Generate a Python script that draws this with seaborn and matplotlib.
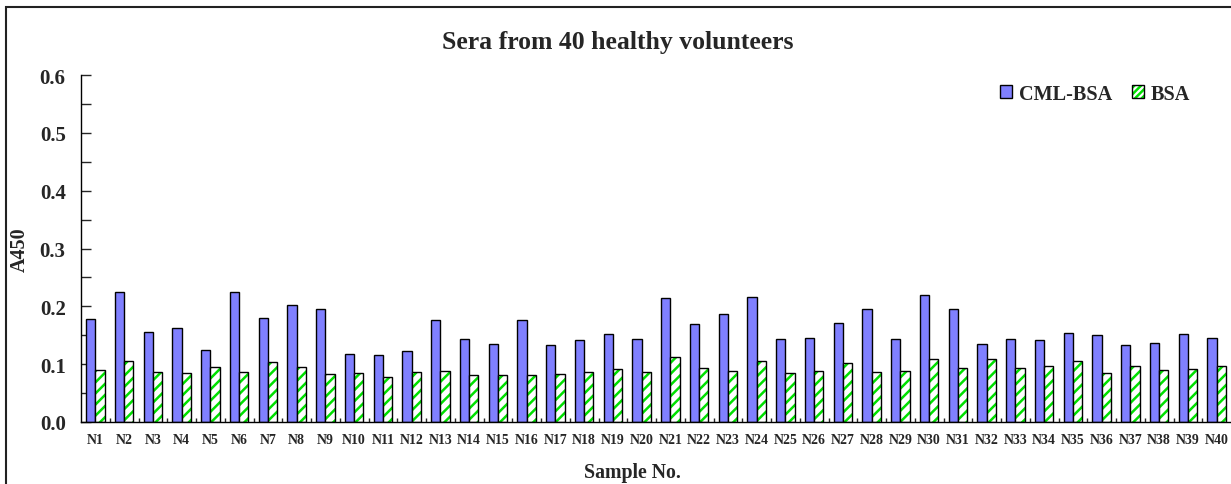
import matplotlib
matplotlib.use('Agg')
import matplotlib.pyplot as plt
import matplotlib.patches as mpatches
from matplotlib.legend_handler import HandlerTuple
from matplotlib.ticker import MultipleLocator, FixedLocator
import numpy as np
import pandas as pd
import seaborn as sns

# Data
samples = [f'N{i}' for i in range(1, 41)]
cml_bsa = [0.178, 0.225, 0.156, 0.163, 0.124, 0.225, 0.180, 0.203, 0.195, 0.118,
           0.116, 0.122, 0.176, 0.144, 0.135, 0.176, 0.133, 0.142, 0.152, 0.144,
           0.214, 0.169, 0.187, 0.216, 0.144, 0.146, 0.171, 0.195, 0.144, 0.220,
           0.195, 0.135, 0.144, 0.142, 0.154, 0.150, 0.133, 0.137, 0.152, 0.146]
bsa = [0.090, 0.105, 0.086, 0.085, 0.095, 0.086, 0.103, 0.095, 0.083, 0.085,
       0.077, 0.086, 0.088, 0.081, 0.081, 0.081, 0.083, 0.086, 0.092, 0.086,
       0.112, 0.094, 0.088, 0.105, 0.085, 0.088, 0.102, 0.086, 0.088, 0.109,
       0.094, 0.109, 0.094, 0.096, 0.105, 0.085, 0.096, 0.090, 0.092, 0.096]
series = ['CML-BSA', 'BSA']
y_ticks = [0.0, 0.1, 0.2, 0.3, 0.4, 0.5, 0.6]

df = pd.DataFrame({
    'sample': samples * 2,
    'value': cml_bsa + bsa,
    'antigen': [series[0]] * len(samples) + [series[1]] * len(samples),
})

BLUE = '#8080FF'
GREEN = '#00E000'

sns.set_style('white')
plt.rcParams['font.family'] = ['Liberation Serif', 'DejaVu Serif']
plt.rcParams['font.weight'] = 'bold'
plt.rcParams['hatch.linewidth'] = 1.8

W, H = 1231, 485
fig = plt.figure(figsize=(W / 100, H / 100), dpi=100)
ax = fig.add_axes([81 / W, 1 - 423 / H, 1 - 81 / W, (423 - 76) / H])

sns.barplot(data=df, x='sample', y='value', hue='antigen', order=samples,
            hue_order=series, palette={'CML-BSA': BLUE, 'BSA': 'white'},
            width=0.64, saturation=1, edgecolor='black', linewidth=1,
            legend=False, ax=ax)

# green hatch for BSA bars, black outline drawn on top
for p in ax.containers[1].patches:
    p.set_hatch('///')
    p.set_edgecolor(GREEN)
    p.set_linewidth(0)
    ax.add_patch(mpatches.Rectangle(p.get_xy(), p.get_width(), p.get_height(),
                                    fill=False, edgecolor='black', linewidth=1, zorder=p.get_zorder() + 0.1))

ax.set_ylim(0, 0.6)
ax.set_xlim(-0.5, len(samples) - 0.5)
ax.set_yticks(y_ticks)
ax.set_yticklabels([f'{t:.1f}' for t in y_ticks], fontsize=15, fontweight='bold')
ax.yaxis.set_minor_locator(MultipleLocator(0.05))
ax.tick_params(axis='y', which='both', direction='in', length=7, width=1, pad=11, left=True)
ax.xaxis.set_minor_locator(FixedLocator(np.arange(0.5, len(samples) - 0.5, 1)))
ax.tick_params(axis='x', which='major', length=0, pad=8, labelsize=10)
ax.tick_params(axis='x', which='minor', direction='in', length=3, width=1, bottom=True)
for lab in ax.get_xticklabels():
    lab.set_fontweight('bold')

for s in ['top', 'right']:
    ax.spines[s].set_visible(False)
for s in ['left', 'bottom']:
    ax.spines[s].set_color('black')
    ax.spines[s].set_linewidth(1)

ax.set_xlabel('')
ax.set_ylabel('A450', fontsize=14.5, fontweight='bold')
ax.yaxis.set_label_coords(-51 / (W - 81), 0.5)
fig.text(632 / W, 1 - 473 / H, 'Sample No.', ha='center', va='center', fontsize=14.3, fontweight='bold')
fig.text(618 / W, 1 - 42 / H, 'Sera from 40 healthy volunteers', ha='center', va='center',
         fontsize=18.5, fontweight='bold')

# legend
h_cml = mpatches.Patch(facecolor=BLUE, edgecolor='black', linewidth=1)
h_bsa = (mpatches.Patch(facecolor='white', edgecolor=GREEN, hatch='/////', linewidth=0),
         mpatches.Patch(fill=False, edgecolor='black', linewidth=1))
fig.legend([h_cml, h_bsa], series, handler_map={tuple: HandlerTuple(ndivide=1)},
           loc='center left', bbox_to_anchor=(1000 / W, 1 - 95 / H), ncol=2, frameon=False,
           prop={'weight': 'bold', 'size': 14.6, 'family': 'Liberation Serif'},
           handlelength=0.6, handleheight=0.6, handletextpad=0.35, columnspacing=0.95,
           borderpad=0, borderaxespad=0)

# outer frame
fig.patches.append(mpatches.Rectangle((6 / W, -0.1), 1.2, 1.1 - 8 / H, fill=False,
                                      edgecolor='#222222', linewidth=1.5, transform=fig.transFigure, figure=fig))

fig.savefig('out.png', dpi=100)
